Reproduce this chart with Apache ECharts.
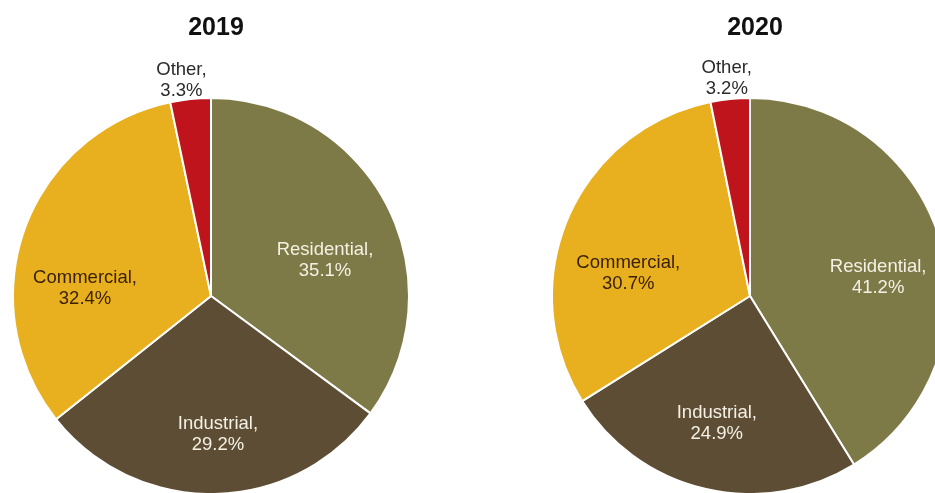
<!DOCTYPE html>
<html>
<head>
<meta charset="utf-8">
<script src="https://cdn.jsdelivr.net/npm/echarts@6/dist/echarts.min.js"></script>
<style>
  html, body { margin: 0; padding: 0; background: #ffffff; }
  #chart { width: 935px; height: 493px; }
</style>
</head>
<body>
<div id="chart"></div>
<script>
// Electricity sales share by sector
var sectors = ['Residential', 'Industrial', 'Commercial', 'Other'];
var years = ['2019', '2020'];
var share2019 = [35.1, 29.2, 32.4, 3.3];
var share2020 = [41.2, 24.9, 30.7, 3.2];

var sectorColors = ['#7e7a48', '#5d4d35', '#e8af1e', '#bf141b'];
var labelColors = ['#f4f1e4', '#f4f1e4', '#3a2200', '#2b2b2b'];

// Label nudges from the default inside position, per pie and sector
var labelNudge = [
  [[23, 10], [5, 36], [-30, 27], [-19, -114]],
  [[30, 9], [-10, 28], [-28, 18], [-13, -116]]
];

var centers = [[211, 296], [750, 296]];
var radius = 198;

function buildData(values, pieIdx) {
  return sectors.map(function (name, i) {
    return {
      name: name,
      value: values[i],
      itemStyle: { color: sectorColors[i] },
      label: {
        color: labelColors[i],
        offset: labelNudge[pieIdx][i]
      }
    };
  });
}

function buildSeries(values, pieIdx) {
  return {
    type: 'pie',
    center: centers[pieIdx],
    radius: [0, radius],
    startAngle: 90,
    clockwise: true,
    silent: true,
    animation: false,
    itemStyle: { borderColor: '#ffffff', borderWidth: 2 },
    label: {
      show: true,
      position: 'inside',
      fontFamily: 'Liberation Sans, Arial, sans-serif',
      fontSize: 18.5,
      lineHeight: 21,
      align: 'center',
      formatter: function (p) {
        return p.name + ',\n' + p.value.toFixed(1) + '%';
      }
    },
    labelLine: { show: false },
    data: buildData(values, pieIdx)
  };
}

var chart = echarts.init(document.getElementById('chart'), null, { renderer: 'canvas' });
chart.setOption({
  backgroundColor: '#ffffff',
  title: years.map(function (y, i) {
    return {
      text: y,
      left: centers[i][0],
      top: 11,
      textAlign: 'center',
      textStyle: {
        fontFamily: 'Liberation Sans, Arial, sans-serif',
        fontSize: 25,
        fontWeight: 'bold',
        color: '#111111'
      }
    };
  }),
  series: [buildSeries(share2019, 0), buildSeries(share2020, 1)]
});
</script>
</body>
</html>
